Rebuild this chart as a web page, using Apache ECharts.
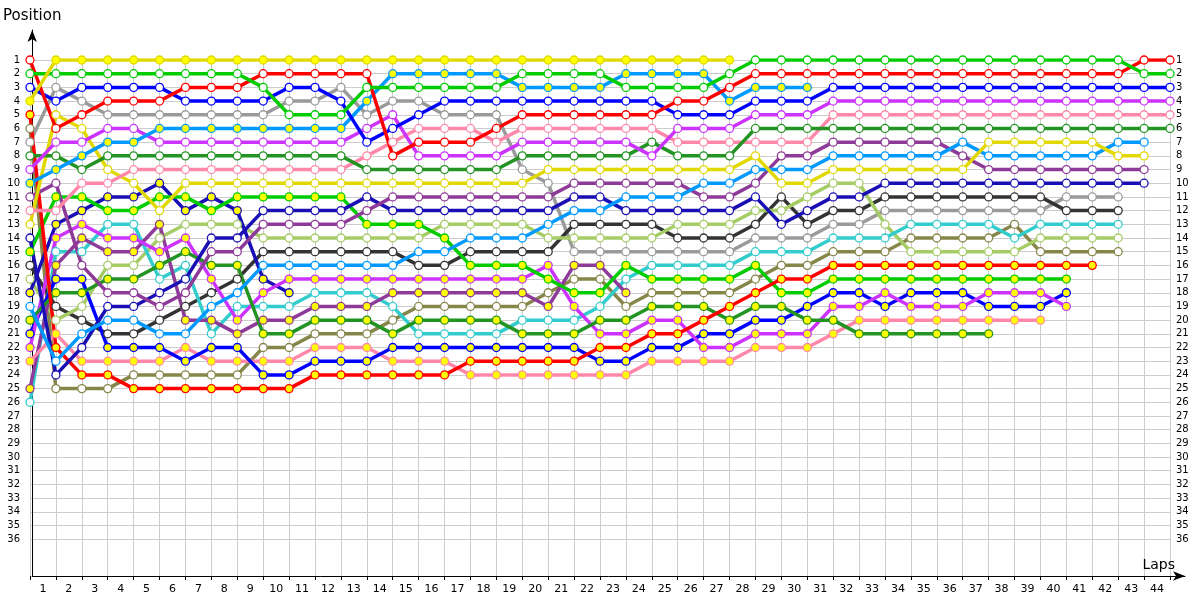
<!DOCTYPE html>
<html><head><meta charset="utf-8">
<script src="https://cdn.jsdelivr.net/npm/echarts@6/dist/echarts.min.js"></script>
<style>html,body{margin:0;padding:0;background:#fff}#c{width:1200px;height:600px}</style>
</head><body><div id="c"></div>
<script>
// ---- data: position of each driver after each lap (index = lap, 0 = grid) ----
const lapLabels = Array.from({length:44},(_,i)=>String(i+1));

const yellowF = [4,1,1,1,1,1,1,1,1,1,1,1,1,1,1,1,1,1,1,1,1,1,1,1,1,1,1,1];
const greenW  = [2,2,2,2,2,2,2,2,2,3,5,5,5,3,3, 3,3,3,3,2,2,2,2,3,3,3,3,2,1,1, 1,1,1,1,1,1,1,1,1,1,1,1,1,2,2];
const redW    = [1,6,5,4,4,4,3,3,3,2,2,2,2,2, 8,7,7,7,6,5,5,5,5,5,5,4,4,3,2, 2,2,2,2,2,2,2,2,2,2,2,2,2,2,1,1];
const blueW   = [3,4,3,3,3,3,4,4,4,4,3,3,4,7,6, 5,4,4,4,4,4,4,4,4,4,5,5,5,4,4, 4,3,3,3,3,3,3,3,3,3,3,3,3,3,3];
const grayW   = [7,3,4,5,5,5,5,5,5,5,4,4,3,5,4, 4,5,5,5,9,10,15,15,15,15,15,15,15,14,14, 14,13,13,12,12,12,12,12,12,12,11,11,11];
const magentaW= [9,7,7,6,6,7,7,7,7,7,7,7,7,6,5, 8,8,8,8,7,7,7,7,7,8,6,6,6,5,5, 5,4,4,4,4,4,4,4,4,4,4,4,4,4,4];
const dkgreenW= [8,8,9,8,8,8,8,8,8,8,8,8,8,9,9, 9,9,9,9,8,8,8,8,8,7,8,8,8,6,6, 6,6,6,6,6,6,6,6,6,6,6,6,6,6,6];
const ltblueF = [10,9,8,7,7,6,6,6,6,6,6,6,6,4,2, 2,2,2,2,3,3,3,3,2,2,2,2,4,3,3,3];
const purpleW = [11,10,16,18,18,19,18,15,15,13,13,13,13,12,11, 11,11,11,11,11,11,10,10,10,10,10,11,11,10,8, 8,7,7,7,7,7,8,9,9,9,9,9,9,9];
const pinkW   = [12,12,10,10,9,9,9,9,9,9,9,9,9,8,7, 6,6,6,7,6,6,6,6,6,6,7,7,7,7,7, 7,5,5,5,5,5,5,5,5,5,5,5,5,5,5];
const yellowW = [13,5,6,9,10,12,10,10,10,10,10,10,10,10,10, 10,10,10,10,10,9,9,9,9,9,9,9,9,8,10, 10,9,9,9,9,9,9,7,7,7,7,7,8,8];
const navyW   = [14,24,22,19,19,18,17,14,14,12,12,12,12,11,12, 12,12,12,12,12,12,11,11,12,12,12,12,12,11,13, 12,11,11,10,10,10,10,10,10,10,10,10,10,10];
const greenF  = [15,11,11,12,12,11,11,12,11,11,11,11,11,13,13, 13,14,16,16,16,17,18,18,16,17,17,17,17,16,18, 18,17,17,17,17,17,17,17,17,17,17];
const blackW  = [16,19,20,21,21,20,19,18,17,15,15,15,15,15,15, 16,16,15,15,15,15,13,13,13,13,14,14,14,13,11, 13,12,12,11,11,11,11,11,11,11,12,12,12];
const ltgreenW= [17,20,19,16,16,14,13,13,13,14,14,14,14,14,14, 14,13,13,13,13,14,14,14,14,14,13,13,13,12,12, 11,10,10,13,15,15,15,15,15,14,14,14,14];
const navyF   = [18,13,12,11,11,10,12,11,12,17,18];
const ltblueW = [19,23,21,20,20,21,21,19,18,16,16,16,16,16,16, 15,15,14,14,14,13,12,12,11,11,11,10,10,9,9, 9,8,8,8,8,8,7,8,8,8,8,8,7,7];
const dkgreenF= [20,18,18,17,17,16,15,16,16,21,21,20,20,20,21, 20,20,20,20,21,21,21,20,20,19,19,19,20,19,19, 20,20,21,21,21,21,21,21];
const blueF   = [21,17,17,22,22,22,23,22,22,24,24,23,23,23,22, 22,22,22,22,22,22,22,23,23,22,22,21,21,20,20, 19,18,18,19,18,18,18,19,19,19,18];
const magentaF= [22,14,13,14,14,15,14,17,20,18,17,17,17,17,17, 17,17,17,17,17,16,19,21,21,20,20,22,22,21,21, 21,19,19,18,19,19,19,18,18,18,19];
const pinkF   = [23,21,23,23,23,23,22,23,23,23,23,22,22,22,23, 23,23,24,24,24,24,24,24,24,23,23,23,23,22,22, 22,21,20,20,20,20,20,20,20,20];
const redF    = [5,22,24,24,25,25,25,25,25,25,25,24,24,24,24, 24,24,23,23,23,23,23,22,22,21,21,20,19,18,17, 17,16,16,16,16,16,16,16,16,16,16,16];
const purpleF = [25,16,14,15,15,13,20,20,21,20,20,19,19,19,18, 18,18,18,18,18,19,16,16,18];
const cyanW   = [26,15,15,13,13,17,16,21,19,19,19,18,18,18,19, 21,21,21,21,20,20,20,19,17,16,16,16,16,15,15, 15,14,14,14,13,13,13,13,14,13,13,13,13];
const oliveW  = [6,25,25,25,24,24,24,24,24,22,22,21,21,21,20, 19,19,19,19,19,18,17,17,19,18,18,18,18,17,16, 16,15,15,15,14,14,14,14,13,15,15,15,15];

// ---- styles ----
const C = {yellow:'#e0d800', green:'#00cc00', red:'#ff0000', blue:'#0000ff', gray:'#9a9a9a',
  magenta:'#cc33ff', ltblue:'#0099ff', dkgreen:'#239323', pink:'#ff88aa', purple:'#8e3a98',
  navy:'#1a0fb4', ltgreen:'#a6cc66', black:'#333333', cyan:'#33cccc', olive:'#86864a'};
const W = '#ffffff', Y = '#ffff00';
const drivers = [
  [oliveW, C.olive, W], [grayW, C.gray, W], [blackW, C.black, W], [ltgreenW, C.ltgreen, W], [cyanW, C.cyan, W],
  [navyF, C.navy, Y], [purpleF, C.purple, Y], [pinkF, C.pink, Y], [blueF, C.blue, Y], [magentaF, C.magenta, Y],
  [dkgreenF, C.dkgreen, Y], [greenF, C.green, Y], [redF, C.red, Y],
  [navyW, C.navy, W], [purpleW, C.purple, W], [ltblueW, C.ltblue, W], [yellowW, C.yellow, W],
  [pinkW, C.pink, W], [dkgreenW, C.dkgreen, W], [magentaW, C.magenta, W], [ltblueF, C.ltblue, Y],
  [blueW, C.blue, W], [redW, C.red, W], [greenW, C.green, W], [yellowF, C.yellow, Y]
];

const FONT = 'DejaVu Sans';
const series = drivers.map(([d, col, fill]) => ({
  type:'line', xAxisIndex:0, yAxisIndex:0,
  data: d.map((p,i)=>[i,p]),
  symbol:'circle', symbolSize:8,
  lineStyle:{color:col, width:3.5},
  itemStyle:{color:fill, borderColor:col, borderWidth:1.3},
  emphasis:{disabled:true}, animation:false
}));

const chart = echarts.init(document.getElementById('c'), null, {renderer:'canvas'});
chart.setOption({
  animation:false,
  grid:[
    {left:30, width:1140, top:60, height:479.2},
    {left:30, width:1140, top:60, bottom:24},
    {left:30, right:15, top:30, bottom:24}
  ],
  xAxis:[
    {gridIndex:0, type:'value', min:0, max:44, show:false},
    {gridIndex:1, type:'category', data:lapLabels, boundaryGap:true,
     axisLine:{show:false}, axisTick:{show:true, interval:0, length:4, lineStyle:{color:'#000'}},
     axisLabel:{interval:0, fontFamily:FONT, fontSize:11, color:'#000', margin:8},
     splitLine:{show:true, interval:0, lineStyle:{color:'#cccccc', width:1}}},
    {gridIndex:2, type:'value', min:0, max:1,
     axisLine:{show:true, onZero:false, symbol:['none','arrow'], symbolSize:[7,12], lineStyle:{color:'#000', width:1}},
     axisTick:{show:false}, axisLabel:{show:false}, splitLine:{show:false},
     name:'Laps', nameLocation:'end', nameGap:-10,
     nameTextStyle:{fontFamily:FONT, fontSize:14, color:'#000', align:'right', verticalAlign:'bottom', padding:[0,0,4,0]}}
  ],
  yAxis:[
    {gridIndex:0, type:'value', min:1, max:36, interval:1, inverse:true,
     axisLine:{show:false}, axisTick:{show:false},
     axisLabel:{fontFamily:FONT, fontSize:10, color:'#000', margin:10},
     splitLine:{show:true, lineStyle:{color:'#cccccc', width:1}}},
    {gridIndex:0, type:'value', min:1, max:36, interval:1, inverse:true, position:'right',
     axisLine:{show:false}, axisTick:{show:false},
     axisLabel:{fontFamily:FONT, fontSize:10, color:'#000', margin:6},
     splitLine:{show:false}},
    {gridIndex:1, type:'value', min:0, max:1, show:false},
    {gridIndex:2, type:'value', min:0, max:1,
     axisLine:{show:true, onZero:false, symbol:['none','arrow'], symbolSize:[7,12], lineStyle:{color:'#000', width:1}},
     axisTick:{show:false}, axisLabel:{show:false}, splitLine:{show:false},
     name:'Position', nameLocation:'end', nameGap:6,
     nameTextStyle:{fontFamily:FONT, fontSize:15, color:'#000'}}
  ],
  series: series
});
</script></body></html>
